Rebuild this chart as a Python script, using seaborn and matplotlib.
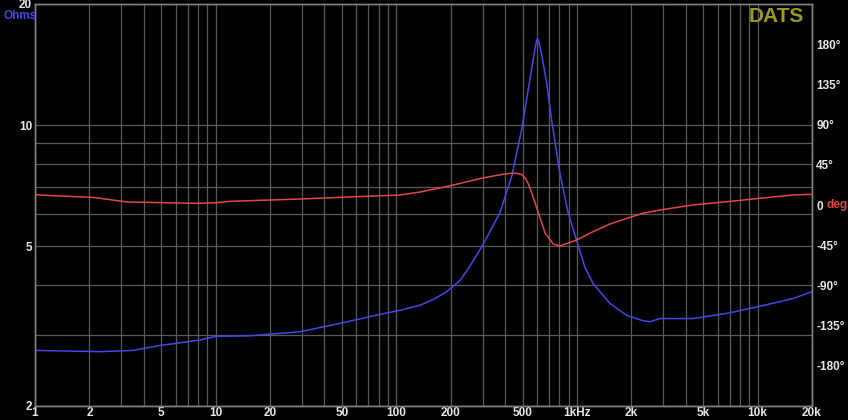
import numpy as np
import pandas as pd
import matplotlib
matplotlib.use('Agg')
import matplotlib.pyplot as plt
import matplotlib.ticker as mticker
import seaborn as sns

# impedance magnitude (Ohms) vs frequency (Hz)
freq_z = [1, 2.29, 3.49, 4.92, 5.95, 8.19, 10, 15.5, 29.3, 48.7, 81.2, 104.7, 135, 160,
          190, 225, 255, 298, 374, 435, 494, 549, 585, 597, 605, 614, 637, 679, 723, 804,
          894, 995, 1106, 1225, 1521, 1889, 2316, 2532, 2876, 4379, 6753, 10285, 15660, 20000]
ohms = [2.75, 2.73, 2.75, 2.83, 2.86, 2.92, 2.98, 2.99, 3.06, 3.21, 3.38, 3.46, 3.56, 3.68,
        3.85, 4.1, 4.45, 4.99, 6.04, 7.44, 9.74, 12.99, 15.44, 16.15, 16.42, 16.15, 15.0,
        12.77, 10.32, 7.60, 6.04, 5.17, 4.43, 4.04, 3.60, 3.36, 3.26, 3.24, 3.30, 3.30,
        3.40, 3.54, 3.70, 3.85]

# phase (degrees) vs frequency (Hz)
freq_ph = [1, 1.26, 2.09, 3.23, 5.11, 7.86, 10.1, 12.0, 29.3, 55, 104.7, 135, 198, 301,
           380, 426, 464, 495, 516, 540, 562, 612, 666, 740, 804, 894, 995, 1225, 1521,
           1889, 2316, 2876, 4379, 6753, 10285, 15660, 20000]
phase = [11.5, 10.4, 8.6, 3.4, 2.6, 1.9, 2.6, 4.1, 6.7, 9.0, 11.2, 14.5, 21.5, 30.2,
         34.0, 35.5, 35.5, 34.0, 30.2, 23.0, 13.4, -9.0, -31.3, -43.7, -45.9, -42.5,
         -39.2, -29.9, -21.3, -14.9, -9.3, -5.6, 0.0, 3.7, 7.5, 11.2, 12.0]

x_ticks = [1, 2, 5, 10, 20, 50, 100, 200, 500, 1000, 2000, 5000, 10000, 20000]
x_labels = ['1', '2', '5', '10', '20', '50', '100', '200', '500', '1kHz', '2k', '5k', '10k', '20k']
y_ticks = [2, 5, 10, 20]
ph_ticks = [-180, -135, -90, -45, 0, 45, 90, 135, 180]
ph_labels = ['-180°', '-135°', '-90°', '-45°', '0', '45°', '90°', '135°', '180°']

sns.set_theme(style='dark')
plt.rcParams['font.family'] = ['Liberation Sans', 'DejaVu Sans']

txt = '#e6e6e6'
grid = '#595959'
blue = '#4646e8'
red = '#e04848'

df_z = pd.DataFrame({'f': freq_z, 'z': ohms})
df_p = pd.DataFrame({'f': freq_ph, 'p': phase})

fig = plt.figure(figsize=(8.48, 4.2), dpi=100, facecolor='black')
ax = fig.add_axes([35 / 848, 14 / 420, 777 / 848, 402 / 420])
ax.set_facecolor('black')
ax.set_xscale('log')
ax.set_yscale('log')
ax.set_xlim(1, 20000)
ax.set_ylim(2, 20)

# grid
ax.set_xticks(x_ticks)
ax.set_xticklabels(x_labels)
ax.xaxis.set_minor_locator(mticker.LogLocator(base=10, subs=np.arange(1, 10)))
ax.xaxis.set_minor_formatter(mticker.NullFormatter())
ax.set_yticks(y_ticks)
ax.set_yticklabels([str(v) for v in y_ticks])
ax.yaxis.set_minor_locator(mticker.FixedLocator([3, 4, 6, 7, 8, 9]))
ax.yaxis.set_minor_formatter(mticker.NullFormatter())
ax.grid(True, which='both', color=grid, lw=0.9)

ax2 = ax.twinx()
ax2.set_ylim(-225, 225)
ax2.set_yticks(ph_ticks)
ax2.set_yticklabels(ph_labels)
ax2.grid(False)

sns.lineplot(data=df_z, x='f', y='z', ax=ax, color=blue, lw=1.1)
sns.lineplot(data=df_p, x='f', y='p', ax=ax2, color=red, lw=1.1)
ax2.set_xlim(1, 20000)
ax.set_xlabel('')
ax.set_ylabel('')
ax2.set_ylabel('')

for a in (ax, ax2):
    a.tick_params(axis='both', which='both', length=0, colors=txt, labelsize=8.5)
    for lab in a.get_xticklabels() + a.get_yticklabels():
        lab.set_fontweight('bold')
    for s in a.spines.values():
        s.set_color('#808080')
        s.set_linewidth(1)
ax.tick_params(axis='x', pad=1)
ax.tick_params(axis='y', pad=2)
ax2.tick_params(axis='y', pad=3)

ax2.annotate('deg', xy=(1, 0), xycoords=('axes fraction', 'data'), xytext=(10.5, 0),
             textcoords='offset points', color=red, fontsize=8.5, fontweight='bold',
             ha='left', va='center')
fig.text(3 / 848, 1 - 16 / 420, 'Ohms', color=blue, fontsize=8.5, fontweight='bold',
         ha='left', va='center')
fig.text(776 / 848, 1 - 16 / 420, 'DATS', color='#9c9c1c', fontsize=15, fontweight='bold',
         ha='center', va='center')

fig.savefig('out.png', dpi=100, facecolor='black')
